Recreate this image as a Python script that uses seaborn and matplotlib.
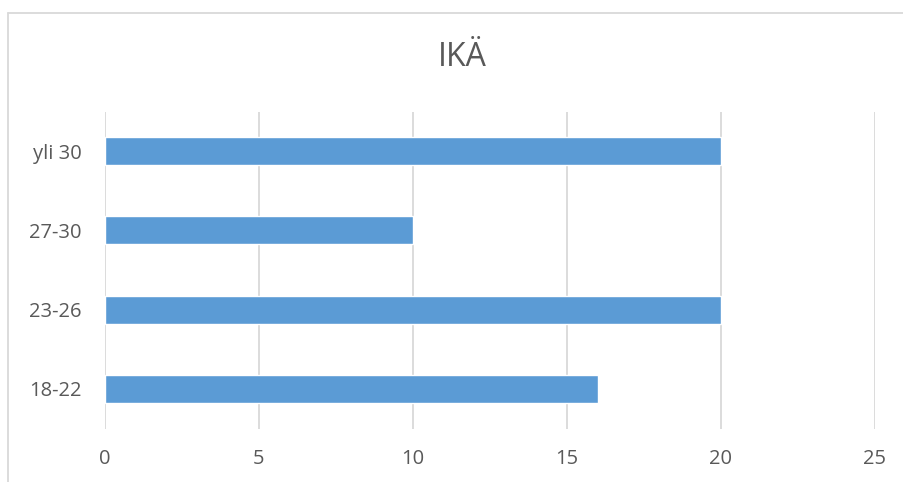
import matplotlib
matplotlib.use("Agg")
import matplotlib.pyplot as plt
import seaborn as sns
import pandas as pd
from matplotlib.lines import Line2D

categories = ["yli 30", "27-30", "23-26", "18-22"]
values = [20, 10, 20, 16]
xticks = [0, 5, 10, 15, 20, 25]
title = "IKÄ"

sns.set_theme(style="white")
plt.rcParams['font.family'] = ['Open Sans', 'DejaVu Sans']

df = pd.DataFrame({"cat": categories, "val": values})

W, H = 904, 482
fig = plt.figure(figsize=(W / 100, H / 100), dpi=100)
ax = fig.add_axes([105 / W, 1 - 428.5 / H, (875 - 105) / W, (428.5 - 111.5) / H])

sns.barplot(data=df, x="val", y="cat", order=categories, color="#5B9BD5",
            saturation=1, width=0.355, ax=ax, zorder=3)

ax.set_xlim(0, 25)
ax.set_xticks(xticks)
ax.set_xticklabels([str(t) for t in xticks])
ax.set_xlabel("")
ax.set_ylabel("")
ax.grid(axis="x", color="#D9D9D9", linewidth=1.3, zorder=0)
ax.grid(axis="y", visible=False)
for s in ax.spines.values():
    s.set_visible(False)
ax.tick_params(axis="both", length=0, labelsize=14.5, labelcolor="#595959")
ax.tick_params(axis="x", pad=15)
ax.tick_params(axis="y", pad=17)

fig.text(462 / W, 1 - 58 / H, title, ha="center", va="center",
         fontsize=23, color="#595959")

x0 = 8 / W
y0 = 1 - 13 / H
fig.lines.append(Line2D([x0, 1.05], [y0, y0], transform=fig.transFigure,
                        color="#D9D9D9", linewidth=1.3))
fig.lines.append(Line2D([x0, x0], [y0, -0.05], transform=fig.transFigure,
                        color="#D9D9D9", linewidth=1.3))

fig.savefig("out.png", dpi=100)
